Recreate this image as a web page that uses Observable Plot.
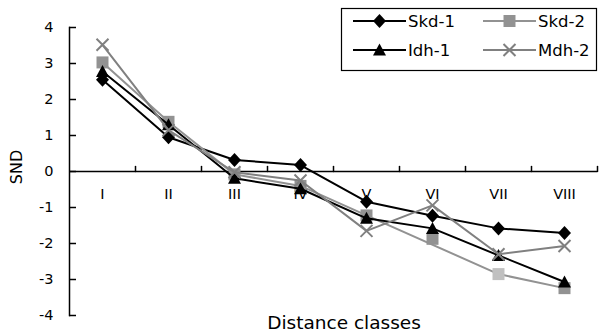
<!DOCTYPE html>
<html>
<head>
<meta charset="utf-8">
<script src="https://cdn.jsdelivr.net/npm/d3@7"></script>
<script src="https://cdn.jsdelivr.net/npm/@observablehq/plot@0.6"></script>
<style>
  html, body { margin: 0; padding: 0; background: #fff; }
  svg { display: block; }
</style>
</head>
<body>
<div id="chart"></div>
<script>
// ---- data ----
const categories = ["I", "II", "III", "IV", "V", "VI", "VII", "VIII"];
const seriesNames = ["Skd-1", "Skd-2", "Idh-1", "Mdh-2"];
const skd1 = [2.55, 0.95, 0.32, 0.18, -0.84, -1.23, -1.58, -1.71];
const skd2 = [3.03, 1.38, -0.08, -0.40, -1.22, -1.87, -2.85, -3.24];
const idh1 = [2.78, 1.30, -0.19, -0.48, -1.30, -1.58, -2.33, -3.07];
const mdh2 = [3.52, 1.15, -0.02, -0.25, -1.65, -0.94, -2.30, -2.07];
const yTicks = [-4, -3, -2, -1, 0, 1, 2, 3, 4];

const values = {"Skd-1": skd1, "Skd-2": skd2, "Idh-1": idh1, "Mdh-2": mdh2};
const rows = seriesNames.flatMap(s => categories.map((c, i) => ({series: s, cls: c, v: values[s][i]})));

// ---- styles ----
const W = 599, H = 333, ML = 69, MR = 2, MT = 27, MB = 18;
const color = {"Skd-1": "#000000", "Skd-2": "#929292", "Idh-1": "#000000", "Mdh-2": "#808080"};
const light = "#c0c0c0";
const font = "DejaVu Sans, sans-serif";

const shapes = {
  "Skd-1": {draw(c) { c.moveTo(0, -7); c.lineTo(6.5, 0); c.lineTo(0, 7); c.lineTo(-6.5, 0); c.closePath(); }},
  "Skd-2": {draw(c) { c.moveTo(-6, -6); c.lineTo(6, -6); c.lineTo(6, 6); c.lineTo(-6, 6); c.closePath(); }},
  "Idh-1": {draw(c) { c.moveTo(0, -6.5); c.lineTo(6.5, 5.5); c.lineTo(-6.5, 5.5); c.closePath(); }},
  "Mdh-2": {draw(c) { c.moveTo(-6, -6); c.lineTo(6, 6); c.moveTo(6, -6); c.lineTo(-6, 6); }}
};
const tickUp = {draw(c, l) { c.moveTo(0, 0); c.lineTo(0, -l); }};

// Skd-2: segment VI→VII and marker VII drawn light grey in the original
const lineStroke = d => (d.series === "Skd-2" && d.cls === "VI") ? light : color[d.series];
const dotColor = d => (d.series === "Skd-2" && d.cls === "VII") ? light : color[d.series];

const marks = [
  Plot.ruleY([0], {stroke: "#000", strokeWidth: 1.5}),
  Plot.frame({anchor: "left", stroke: "#000", strokeWidth: 1.5}),
  // inward y ticks, 7px long
  Plot.ruleY(yTicks, {y: d => d, insetRight: (W - ML - MR) - 7, stroke: "#000", strokeWidth: 1.5}),
  // x ticks between classes, pointing up from the zero line
  Plot.vector(categories, {x: d => d, y: 0, dx: 33, length: 5, anchor: "start", shape: tickUp, stroke: "#000", strokeWidth: 1.5}),
  Plot.axisY({ticks: yTicks, tickSize: 0, tickPadding: 16, tickFormat: d => String(d), label: null, fontSize: 14.5, fontFamily: font, fill: "#000"}),
  Plot.text(categories, {x: d => d, y: 0, dy: 17, lineAnchor: "top", text: d => d, fontSize: 14.5, fontFamily: font, fill: "#000"})
];
for (const s of seriesNames) {
  const data = rows.filter(d => d.series === s);
  marks.push(Plot.line(data, {x: "cls", y: "v", stroke: lineStroke, strokeWidth: 2}));
  if (s === "Mdh-2") {
    marks.push(Plot.dot(data, {x: "cls", y: "v", symbol: shapes[s], stroke: dotColor, strokeWidth: 2, fill: "none"}));
  } else {
    marks.push(Plot.dot(data, {x: "cls", y: "v", symbol: shapes[s], fill: dotColor, stroke: "none"}));
  }
}

const chart = Plot.plot({
  width: W,
  height: H,
  marginLeft: ML,
  marginRight: MR,
  marginTop: MT,
  marginBottom: MB,
  style: {fontFamily: font, background: "#fff"},
  x: {type: "point", domain: categories, padding: 0.5, axis: null},
  y: {domain: [-4, 4], axis: null},
  marks
});
document.getElementById("chart").appendChild(chart);

// ---- axis titles & legend ----
const svg = d3.select(chart);
svg.append("text")
  .attr("x", 344).attr("y", 329)
  .attr("text-anchor", "middle")
  .attr("font-family", font).attr("font-size", 18.5).attr("fill", "#000")
  .text("Distance classes");
svg.append("text")
  .attr("transform", "translate(22,167) rotate(-90)")
  .attr("text-anchor", "middle")
  .attr("font-family", font).attr("font-size", 16).attr("fill", "#000")
  .text("SND");

const lg = svg.append("g");
lg.append("rect").attr("x", 341.5).attr("y", 8.5).attr("width", 255).attr("height", 62)
  .attr("fill", "#fff").attr("stroke", "#000").attr("stroke-width", 1.2);
const pos = {"Skd-1": [353, 21], "Skd-2": [483, 21], "Idh-1": [353, 50], "Mdh-2": [483, 50]};
for (const s of seriesNames) {
  const [x0, y0] = pos[s];
  lg.append("line").attr("x1", x0).attr("x2", x0 + 53).attr("y1", y0).attr("y2", y0)
    .attr("stroke", color[s]).attr("stroke-width", 2);
  const p = d3.path();
  shapes[s].draw(p);
  const m = lg.append("path").attr("d", p.toString()).attr("transform", `translate(${x0 + 26.5},${y0})`);
  if (s === "Mdh-2") m.attr("fill", "none").attr("stroke", color[s]).attr("stroke-width", 2);
  else m.attr("fill", color[s]);
  lg.append("text").attr("x", x0 + 55).attr("y", y0).attr("dy", "0.36em")
    .attr("text-anchor", "start")
    .attr("font-family", font).attr("font-size", 16.5).attr("fill", "#000")
    .text(s);
}
</script>
</body>
</html>
